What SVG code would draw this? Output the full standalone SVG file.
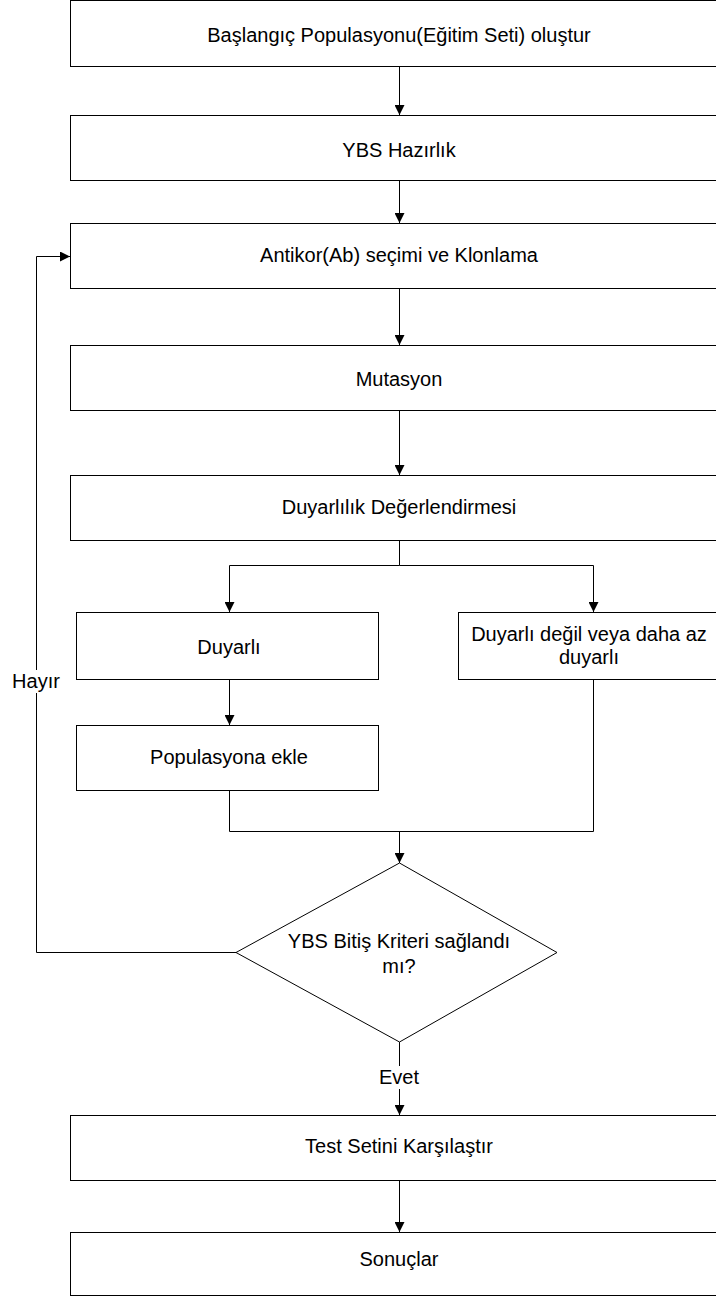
<svg xmlns="http://www.w3.org/2000/svg" width="716" height="1297" viewBox="0 0 716 1297">
<defs>
<style>
.box{fill:#fff;stroke:#000;stroke-width:1}
.ln{fill:none;stroke:#000;stroke-width:1}
.t{font-family:"Liberation Sans",Arial,sans-serif;font-size:20px;fill:#000;text-anchor:middle}
</style>
<marker id="ah" viewBox="0 0 10 10" refX="10" refY="5" markerWidth="10" markerHeight="10" markerUnits="userSpaceOnUse" orient="auto">
<path d="M0,0 L10,5 L0,10 Z" fill="#000"/>
</marker>
</defs>
<rect width="716" height="1297" fill="#fff"/>
<g id="connectors">
<line class="ln" x1="399.5" y1="67" x2="399.5" y2="115" marker-end="url(#ah)"/>
<line class="ln" x1="399.5" y1="180" x2="399.5" y2="223" marker-end="url(#ah)"/>
<line class="ln" x1="399.5" y1="288" x2="399.5" y2="345" marker-end="url(#ah)"/>
<line class="ln" x1="399.5" y1="410" x2="399.5" y2="475" marker-end="url(#ah)"/>
<polyline class="ln" points="399.5,540 399.5,565.5 229.5,565.5 229.5,612" marker-end="url(#ah)"/>
<polyline class="ln" points="399.5,565.5 593.5,565.5 593.5,612" marker-end="url(#ah)"/>
<line class="ln" x1="229.5" y1="680" x2="229.5" y2="725" marker-end="url(#ah)"/>
<polyline class="ln" points="229.5,790 229.5,831.5 593.5,831.5 593.5,680"/>
<line class="ln" x1="399.5" y1="831.5" x2="399.5" y2="863" marker-end="url(#ah)"/>
<polyline class="ln" points="236,952.5 36.5,952.5 36.5,256.5 70,256.5" marker-end="url(#ah)"/>
<line class="ln" x1="399.5" y1="1042" x2="399.5" y2="1115" marker-end="url(#ah)"/>
<line class="ln" x1="399.5" y1="1180" x2="399.5" y2="1232" marker-end="url(#ah)"/>
<rect x="11" y="670" width="50" height="23" fill="#fff"/>
<text class="t" x="36" y="688">Hayır</text>
<rect x="376" y="1066" width="47" height="23" fill="#fff"/>
<text class="t" x="399" y="1084">Evet</text>
</g>
<g id="n1"><rect class="box" x="70.5" y="0.5" width="660" height="66"/><text class="t" x="399" y="42">Başlangıç Populasyonu(Eğitim Seti) oluştur</text></g>
<g id="n2"><rect class="box" x="70.5" y="115.5" width="660" height="65"/><text class="t" x="399" y="157">YBS Hazırlık</text></g>
<g id="n3"><rect class="box" x="70.5" y="223.5" width="660" height="65"/><text class="t" x="399" y="262">Antikor(Ab) seçimi ve Klonlama</text></g>
<g id="n4"><rect class="box" x="70.5" y="345.5" width="660" height="65"/><text class="t" x="399" y="386">Mutasyon</text></g>
<g id="n5"><rect class="box" x="70.5" y="475.5" width="660" height="65"/><text class="t" x="399" y="514">Duyarlılık Değerlendirmesi</text></g>
<g id="n6"><rect class="box" x="76.5" y="612.5" width="302" height="67"/><text class="t" x="229" y="654">Duyarlı</text></g>
<g id="n7"><rect class="box" x="458.5" y="612.5" width="280" height="67"/><text class="t" x="589" y="641">Duyarlı değil veya daha az</text><text class="t" x="589" y="664">duyarlı</text></g>
<g id="n8"><rect class="box" x="76.5" y="725.5" width="302" height="65"/><text class="t" x="229" y="764">Populasyona ekle</text></g>
<g id="n9"><polygon class="box" points="399.5,863 557,952.5 399.5,1042 236,952.5"/><text class="t" x="399" y="948">YBS Bitiş Kriteri sağlandı</text><text class="t" x="399" y="973">mı?</text></g>
<g id="n10"><rect class="box" x="70.5" y="1115.5" width="660" height="65"/><text class="t" x="399" y="1153">Test Setini Karşılaştır</text></g>
<g id="n11"><rect class="box" x="70.5" y="1232.5" width="660" height="63"/><text class="t" x="399" y="1266">Sonuçlar</text></g>
</svg>
